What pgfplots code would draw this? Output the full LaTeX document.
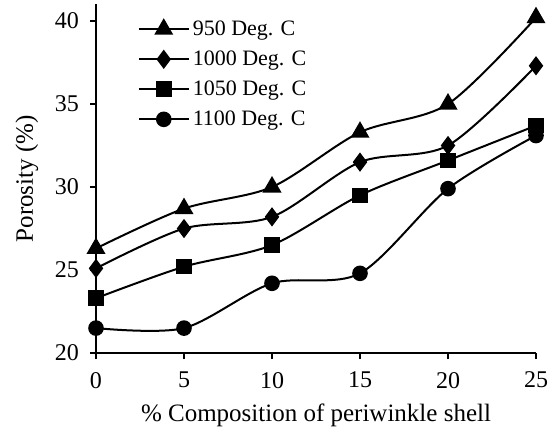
\documentclass[border=0pt]{standalone}
\usepackage{fontspec}
\setmainfont{Liberation Serif}
\usepackage{pgfplots}
\pgfplotsset{compat=1.18}

\begin{document}
\begin{tikzpicture}
\begin{axis}[
    scale only axis,
    width=220pt,
    height=174.3pt,
    xmin=0, xmax=25,
    ymin=20, ymax=41,
    xtick={0,5,...,25},
    ytick={20,25,...,40},
    axis x line*=bottom,
    axis y line*=left,
    axis line style={line width=1.4pt,-},
    tick style={line width=1pt,black},
    tick align=outside,
    major tick length=3pt,
    minor tick num=0,
    /pgf/number format/assume math mode=true,
    tick label style={font=\fontsize{12}{14}\selectfont},
    yticklabel style={xshift=-2pt},
    xticklabel style={yshift=-3pt},
    xlabel={\% Composition of periwinkle shell},
    ylabel={Porosity (\%)},
    label style={font=\fontsize{12.5}{15}\selectfont},
    xlabel style={at={(axis description cs:0.5,0)}, anchor=center, yshift=-31pt},
    ylabel style={at={(axis description cs:-0.157,0.5)}, anchor=center},
    legend cell align=left,
    legend style={draw=none, fill=none, at={(axis cs:2.35,40.3)}, anchor=north west,
        font=\fontsize{11}{13}\selectfont, row sep=2.2pt, inner sep=0pt,
        nodes={inner xsep=1.5pt, inner ysep=2pt}},
    every axis plot/.append style={black, line width=1pt, smooth, tension=0.5,
        legend image code/.code={\draw[##1,mark repeat=2,mark phase=2] plot coordinates {(0pt,0pt)(12.5pt,0pt)(25pt,0pt)};}},
]

% 950 Deg. C
\addplot[mark=triangle*, mark size=4.5pt] coordinates {
    (0,26.3) (5,28.7) (10,30.0) (15,33.3) (20,35.0) (25,40.2)
};
\addlegendentry{950 Deg. C}

% 1000 Deg. C
\addplot[mark=diamond*, mark size=4pt] coordinates {
    (0,25.1) (5,27.5) (10,28.2) (15,31.5) (20,32.5) (25,37.3)
};
\addlegendentry{1000 Deg. C}

% 1050 Deg. C
\addplot[mark=square*, mark size=3.4pt] coordinates {
    (0,23.3) (5,25.2) (10,26.5) (15,29.5) (20,31.6) (25,33.7)
};
\addlegendentry{1050 Deg. C}

% 1100 Deg. C
\addplot[mark=*, mark size=3.4pt] coordinates {
    (0,21.5) (5,21.5) (10,24.2) (15,24.8) (20,29.9) (25,33.1)
};
\addlegendentry{1100 Deg. C}

\end{axis}
\pgfresetboundingbox
\path ([xshift=-48pt,yshift=-37.5pt]current axis.south west) rectangle ([xshift=6.5pt,yshift=2.2pt]current axis.north east);
\end{tikzpicture}
\end{document}
